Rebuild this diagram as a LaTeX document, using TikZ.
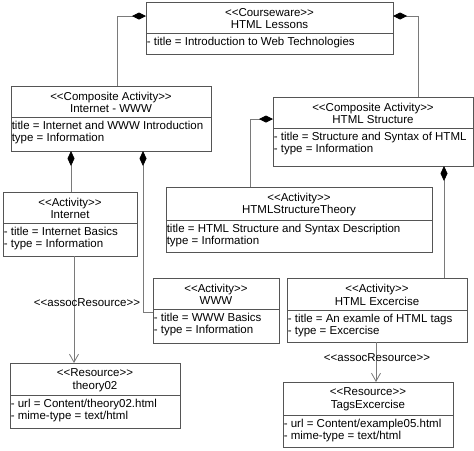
\documentclass[tikz,border=0pt]{standalone}
\usepackage{fontspec}
\setmainfont{Liberation Sans}[Ligatures=NoCommon]
\usetikzlibrary{arrows.meta}
\definecolor{boxgray}{HTML}{555555}
\definecolor{linegray}{HTML}{7A7A7A}
\tikzset{
  umlbox/.style={draw=boxgray, line width=0.9pt, inner sep=0pt, outer sep=0pt},
  divline/.style={draw=boxgray, line width=0.7pt},
  headtext/.style={align=center, inner sep=0pt, yshift=-1pt},
  attrtext/.style={align=left, anchor=north west, inner xsep=0.6pt, inner ysep=3.8pt},
  comp/.style={draw=linegray, line width=0.8pt, {Diamond[length=14pt,width=7pt,color=black]}-},
  vcomp/.style={draw=linegray, line width=0.8pt, {Diamond[length=15pt,width=7pt,color=black]}-},
  assoc/.style={draw=linegray, line width=0.8pt, -{Straight Barb[length=8pt,width=9pt]}},
  lbl/.style={inner sep=0pt}
}
\newcommand\st[1]{<{}<#1>{}>}
% #1 name, #2 x1, #3 y1, #4 x2, #5 y2, #6 divider y, #7 header, #8 attributes
\newcommand\myumlbox[8]{%
  \node[umlbox, anchor=north west, minimum width={#4pt-#2pt}, minimum height={#5pt-#3pt}] (#1) at (#2,#3) {};
  \draw[divline] (#1.west |- 0,#6) -- (#1.east |- 0,#6);
  \node[headtext] (#1-h) at ({(#2+#4)/2},{(#3+#6)/2}) {#7};
  \node[attrtext] (#1-a) at (#2,#6) {#8};
}
\begin{document}
\begin{tikzpicture}[x=1pt,y=-1pt,font=\fontsize{11.5}{12.6}\selectfont]
\useasboundingbox[fill=white] (0,0) rectangle (474,450);

\myumlbox{cw}{146}{2}{393}{54}{33}{\st{Courseware}\\HTML Lessons}{- title = Introduction to Web Technologies}
\myumlbox{iw}{11}{86}{211}{151}{117}{\st{Composite Activity}\\Internet - WWW}{title = Internet and WWW Introduction\\type = Information}
\myumlbox{hs}{273}{97}{473}{166}{128}{\st{Composite Activity}\\HTML Structure}{- title = Structure and Syntax of HTML\\- type = Information}
\myumlbox{in}{3}{192}{137}{256}{223}{\st{Activity}\\Internet}{- title = Internet Basics\\- type = Information}
\myumlbox{hst}{166}{187}{432}{252}{220}{\st{Activity}\\HTMLStructureTheory}{title = HTML Structure and Syntax Description\\type = Information}
\myumlbox{www}{153}{278}{279}{343}{309}{\st{Activity}\\WWW}{- title = WWW Basics\\- type = Information}
\myumlbox{hex}{287}{278}{467}{342}{310}{\st{Activity}\\HTML Excercise}{- title = An examle of HTML tags\\- type = Excercise}
\myumlbox{th}{10}{363}{180}{428}{395}{\st{Resource}\\theory02}{- url = Content/theory02.html\\- mime-type = text/html}
\myumlbox{tg}{283}{382}{453}{447}{415}{\st{Resource}\\TagsExcercise}{- url = Content/example05.html\\- mime-type = text/html}

% compositions
\draw[comp] ([yshift=-14pt]cw.north west) -| ([xshift=106pt]iw.north west);
\draw[comp] ([yshift=-14pt]cw.north east) -| ([xshift=-55pt]hs.north east);
\coordinate (c1) at ([xshift=60pt]iw.south west);
\draw[vcomp] (c1) -- (c1 |- in.north);
\coordinate (c2) at ([xshift=132pt]iw.south west);
\draw[vcomp] (c2) |- ([yshift=-34pt]www.north west);
\draw[comp] ([yshift=-22pt]hs.north west) -| ([xshift=84pt]hst.north west);
\coordinate (c4) at ([xshift=-29pt]hs.south east);
\draw[vcomp] (c4) -- (c4 |- hex.north);

% associations
\coordinate (c5) at ([xshift=71pt]in.south west);
\draw[assoc] (c5) -- (c5 |- th.north) node[lbl, pos=0.44, xshift=13pt] (l1) {\st{assocResource}};
\coordinate (c6) at ([xshift=89pt]hex.south west);
\draw[assoc] (c6) -- (c6 |- tg.north) node[lbl, pos=0.4, xshift=1pt] (l2) {\st{assocResource}};
\end{tikzpicture}
\end{document}
